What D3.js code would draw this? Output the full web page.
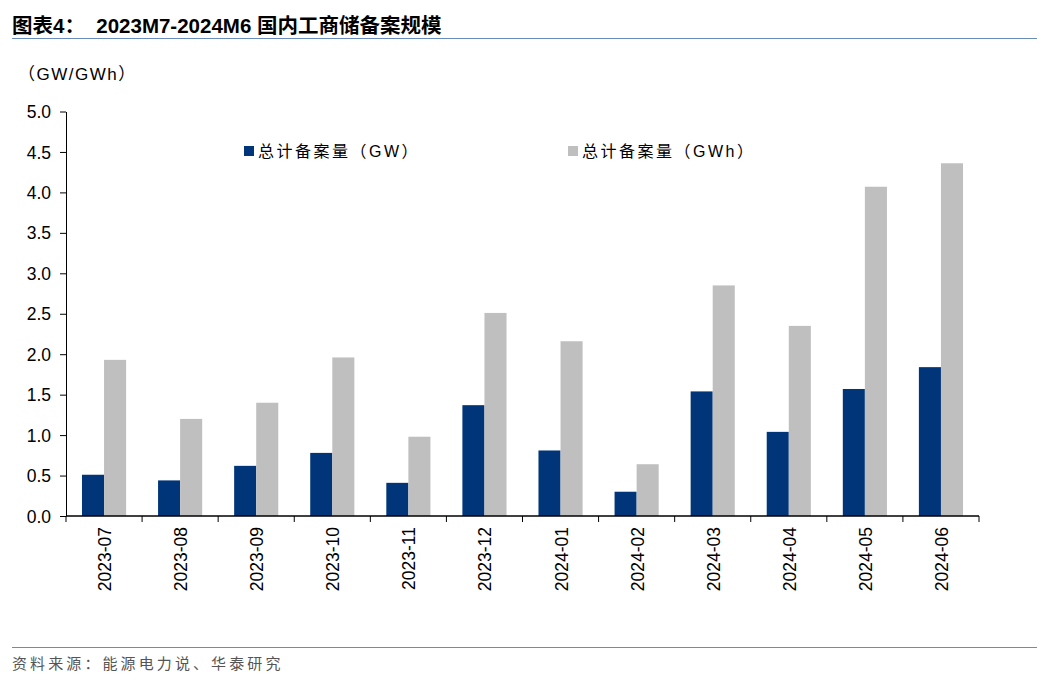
<!DOCTYPE html>
<html>
<head>
<meta charset="utf-8">
<script src="https://cdn.jsdelivr.net/npm/d3@7"></script>
<style>
  body { margin: 0; background: #fff; }
  text { font-family: Arial, "Liberation Sans", "Noto Sans CJK SC", sans-serif; }
  .cjk { font-family: Arial, "Liberation Sans", "Noto Sans CJK SC", sans-serif; }
</style>
</head>
<body>
<div id="chart"></div>
<script>
// months shown on the x axis
const months = ["2023-07","2023-08","2023-09","2023-10","2023-11","2023-12",
                "2024-01","2024-02","2024-03","2024-04","2024-05","2024-06"];
// 总计备案量 (GW)
const gw  = [0.51, 0.44, 0.62, 0.78, 0.41, 1.37, 0.81, 0.30, 1.54, 1.04, 1.57, 1.84];
// 总计备案量 (GWh)
const gwh = [1.93, 1.20, 1.40, 1.96, 0.98, 2.51, 2.16, 0.64, 2.85, 2.35, 4.07, 4.36];
const yTicks = [0, 0.5, 1, 1.5, 2, 2.5, 3, 3.5, 4, 4.5, 5];
const seriesNames = ["总计备案量（GW）", "总计备案量（GWh）"];
const colors = ["#003679", "#bfbfbf"];

const W = 1051, H = 682;
const svg = d3.select("#chart").append("svg")
    .attr("width", W).attr("height", H);

// title + rules
svg.append("text")
    .attr("x", 12).attr("y", 33)
    .attr("class", "cjk")
    .style("font-weight", "bold").style("font-size", "20.5px")
    .style("white-space", "pre")
    .text("图表4：  2023M7-2024M6 国内工商储备案规模");
svg.append("line").attr("x1", 12).attr("x2", 1037).attr("y1", 38.5).attr("y2", 38.5)
    .attr("stroke", "#6a8cbc").attr("stroke-width", 1.2);
svg.append("line").attr("x1", 12).attr("x2", 1037).attr("y1", 647.5).attr("y2", 647.5)
    .attr("stroke", "#6a8cbc").attr("stroke-width", 1.2);
svg.append("text")
    .attr("x", 12).attr("y", 669)
    .attr("class", "cjk")
    .style("font-size", "15px").attr("fill", "#555")
    .style("letter-spacing", "3.1px")
    .text("资料来源：能源电力说、华泰研究");

const mLeft = 66, mRight = 979, mTop = 111.5, mBottom = 516;

const x = d3.scaleBand().domain(months).range([mLeft, mRight]).paddingInner(0).paddingOuter(0);
const y = d3.scaleLinear().domain([0, 5]).range([mBottom, mTop]);

// unit label
svg.append("text").attr("x", 18).attr("y", 80)
    .style("font-size", "17px").attr("class", "cjk")
    .style("letter-spacing", "1.5px")
    .text("（GW/GWh）");

// bars
const groups = svg.append("g").selectAll("g")
    .data(months)
    .join("g")
    .attr("transform", d => `translate(${x(d)},0)`);

const bw = x.bandwidth();
const barW = bw * 0.29;
const off = (bw - 2 * barW) / 2;

groups.append("rect")
    .attr("x", off)
    .attr("y", (d, i) => y(gw[i]))
    .attr("width", barW)
    .attr("height", (d, i) => mBottom - y(gw[i]))
    .attr("fill", colors[0]);

groups.append("rect")
    .attr("x", off + barW)
    .attr("y", (d, i) => y(gwh[i]))
    .attr("width", barW)
    .attr("height", (d, i) => mBottom - y(gwh[i]))
    .attr("fill", colors[1]);

// y axis
const yAxis = svg.append("g")
    .attr("transform", `translate(${mLeft},0)`)
    .call(d3.axisLeft(y).tickValues(yTicks).tickFormat(d3.format(".1f")).tickSize(6).tickSizeOuter(0));
yAxis.select(".domain").attr("stroke", "#000");
yAxis.selectAll("text").style("font-size", "17.5px").attr("x", -15).attr("dy", "0.35em")
    .style("font-family", "Arial, 'Liberation Sans', sans-serif");

// x axis: ticks at category boundaries
svg.append("line").attr("x1", mLeft).attr("x2", mRight).attr("y1", mBottom).attr("y2", mBottom)
    .attr("stroke", "#000").attr("stroke-width", 1.5);
const bounds = months.map(m => x(m)).concat([mRight]);
svg.append("g").selectAll("line")
    .data(bounds)
    .join("line")
    .attr("x1", d => d).attr("x2", d => d)
    .attr("y1", mBottom).attr("y2", mBottom + 6)
    .attr("stroke", "#000");

svg.append("g").selectAll("text")
    .data(months)
    .join("text")
    .attr("transform", d => `translate(${x(d) + bw / 2 + 7},${mBottom + 11}) rotate(-90)`)
    .attr("text-anchor", "end")
    .style("font-size", "17.5px")
    .text(d => d);

// legend
const legendX = [244, 568];
seriesNames.forEach((s, i) => {
    svg.append("rect").attr("x", legendX[i]).attr("y", 146)
        .attr("width", 10).attr("height", 10).attr("fill", colors[i]);
    svg.append("text").attr("x", legendX[i] + 14).attr("y", 157)
        .attr("class", "cjk").style("font-size", "16px")
        .style("letter-spacing", "2.5px")
        .text(s);
});
</script>
</body>
</html>
